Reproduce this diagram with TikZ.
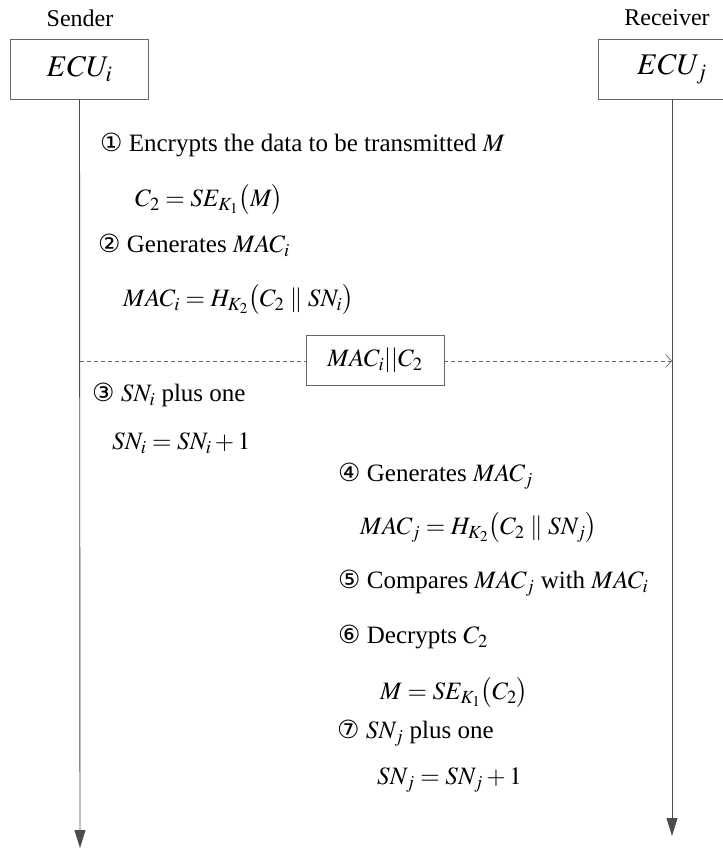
\documentclass[tikz,border=0pt]{standalone}
\usepackage{mathptmx}
\usepackage{fontspec}
\setmainfont{Liberation Serif}
\newfontfamily\circfont{DejaVu Sans}
\usetikzlibrary{arrows.meta}
\newcommand\circnum[1]{{\circfont\fontsize{25}{29}\selectfont #1}}
\tikzset{
  lbl/.style={anchor=west,inner sep=0pt,font=\fontsize{25}{30}\selectfont},
  role/.style={inner sep=0pt,font=\fontsize{24}{28}\selectfont},
  actor/.style={draw=black!60,line width=0.8pt,minimum height=60pt,inner sep=0pt,fill=white,font=\fontsize{30}{36}\selectfont},
  msgbox/.style={draw=black!60,line width=0.8pt,minimum width=138pt,minimum height=50pt,inner sep=0pt,fill=white,font=\fontsize{25}{30}\selectfont},
  life/.style={draw=black!70,line width=0.9pt,-{Triangle[length=18pt,width=11pt]}},
  msg/.style={draw=black!60,line width=0.7pt,dash pattern=on 4pt off 3pt,-{Straight Barb[length=6pt,width=13pt,line width=0.7pt]}}
}
\begin{document}
\begin{tikzpicture}[x=1pt,y=-1pt]
\useasboundingbox (0,0) rectangle (723,849);
\clip (0,0) rectangle (723,849);
% roles
\node[role] (snd) at (80,18) {Sender};
\node[role] (rcv) at (667,18) {Receiver};
\node[actor,minimum width=138pt] (ecui) at (79.5,69) {$ECU_i$};
\node[actor,minimum width=148pt] (ecuj) at (672,69) {$ECU_j$};
% lifelines
\coordinate (endL) at (80,848);
\coordinate (endR) at (672,836);
\draw[life] (ecui.south) -- (endL);
\draw[life] (ecuj.south) -- (endR);
% message
\coordinate (ms) at (80,361);
\coordinate (me) at (672,361);
\draw[msg] (ms) -- (me);
\node[msgbox] (mb) at (375,360.5) {$MAC_i||C_2$};
% sender steps
\node[lbl] (s1) at (100,145) {\circnum{①} Encrypts the data to be transmitted $M$};
\node[lbl] (f1) at (135,200) {$C_2 = SE_{K_1}\bigl(M\bigr)$};
\node[lbl] (s2) at (98,245) {\circnum{②} Generates $MAC_i$};
\node[lbl] (f2) at (123,300) {$MAC_i = H_{K_2}\bigl(C_2 \parallel SN_i\bigr)$};
\node[lbl] (s3) at (92,395) {\circnum{③} $SN_i$ plus one};
\node[lbl] (f3) at (112,443) {$SN_i = SN_i + 1$};
% receiver steps
\node[lbl] (s4) at (338,476) {\circnum{④} Generates $MAC_j$};
\node[lbl] (f4) at (360,528) {$MAC_j = H_{K_2}\bigl(C_2 \parallel SN_j\bigr)$};
\node[lbl] (s5) at (338,583) {\circnum{⑤} Compares $MAC_j$ with $MAC_i$};
\node[lbl] (s6) at (338,637) {\circnum{⑥} Decrypts $C_2$};
\node[lbl] (f6) at (380,693) {$M = SE_{K_1}\bigl(C_2\bigr)$};
\node[lbl] (s7) at (337,733) {\circnum{⑦} $SN_j$ plus one};
\node[lbl] (f7) at (377,780) {$SN_j = SN_j + 1$};
\end{tikzpicture}
\end{document}
